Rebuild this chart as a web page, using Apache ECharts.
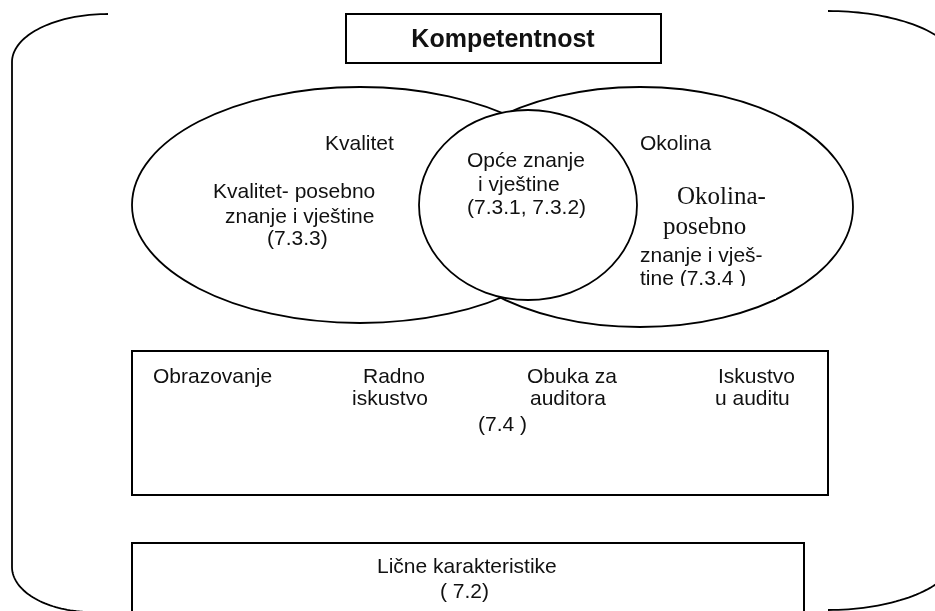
<!DOCTYPE html>
<html>
<head>
<meta charset="UTF-8">
<title>Kompetentnost</title>
<script src="https://cdn.jsdelivr.net/npm/echarts@6/dist/echarts.min.js"></script>
<style>
	html, body { margin: 0; padding: 0; background: #fff; }
	#main { width: 935px; height: 611px; }
</style>
</head>
<body>
<div id="main"></div>
<script>
	// tekstovi dijagrama
	var titleText = ['Kompetentnost'];
	var vennHeads = ['Kvalitet', 'Okolina'];
	var qualityText = ['Kvalitet- posebno', 'znanje i vještine', '(7.3.3)'];
	var commonText = ['Opće znanje', 'i vještine', '(7.3.1, 7.3.2)'];
	var envSerif = ['Okolina-', 'posebno'];
	var envText = ['znanje i vješ-', 'tine (7.3.4 )'];
	var auditText = ['Obrazovanje', 'Radno', 'iskustvo', 'Obuka za', 'auditora', 'Iskustvo', 'u auditu', '(7.4 )'];
	var personalText = ['Lične karakteristike', '( 7.2)'];

	// raspored u jedinicama dijagrama (x 0..935, y 0..611)
	var titlePos = [[503, 40]];
	var vennHeadPos = [[325, 144], [640, 144]];
	var qualityPos = [[213, 192], [225, 217], [267, 239]];
	var commonPos = [[467, 161], [478, 185], [467, 208]];
	var envSerifPos = [[677, 197], [663, 227]];
	var envPos = [[640, 256], [640, 279]];
	var auditPos = [[153, 377], [363, 377], [352, 399], [527, 377], [530, 399], [718, 377], [715, 399], [478, 425]];
	var personalPos = [[377, 567], [440, 592]];

	var ellipses = [[360, 205, 228, 118, 0], [640, 207, 213, 120, 0], [528, 205, 109, 95, 1]];
	var boxes = [[346, 14, 315, 49], [132, 351, 696, 144], [132, 543, 672, 80]];
	// [cx, cy, rx, ry, t0, t1] gornji luk pa donji luk
	var brackets = [
		[108, 62, 96, 48, 270, 180, 92, 567, 80, 45, 180, 90],
		[828, 66, 130, 55, 270, 360, 828, 552, 130, 58, 0, 90]
	];
	var clipBand = [[636, 286, 140, 13]];

	var SANS = '21px "Liberation Sans", Arial, sans-serif';
	var SERIF = '25px "Liberation Serif", "Times New Roman", serif';
	var TITLE = 'bold 25px "Liberation Sans", Arial, sans-serif';

	var labels = [];
	var labelData = [];
	function addLabels(texts, pos, font, align) {
		for (var i = 0; i < texts.length; i++) {
			labels.push({ text: texts[i], font: font, align: align });
			labelData.push(pos[i]);
		}
	}
	addLabels(titleText, titlePos, TITLE, 'center');
	addLabels(vennHeads, vennHeadPos, SANS, 'left');
	addLabels(qualityText, qualityPos, SANS, 'left');
	addLabels(commonText, commonPos, SANS, 'left');
	addLabels(envSerif, envSerifPos, SERIF, 'left');
	addLabels(envText, envPos, SANS, 'left');
	addLabels(auditText, auditPos, SANS, 'left');
	addLabels(personalText, personalPos, SANS, 'left');

	function arcPoints(api, cx, cy, rx, ry, t0, t1) {
		var pts = [];
		var n = 40;
		for (var k = 0; k <= n; k++) {
			var t = (t0 + (t1 - t0) * k / n) * Math.PI / 180;
			pts.push(api.coord([cx + rx * Math.cos(t), cy + ry * Math.sin(t)]));
		}
		return pts;
	}

	var myChart = echarts.init(document.getElementById('main'));
	var option = {
		animation: false,
		backgroundColor: '#fff',
		grid: { left: 0, right: 0, top: 0, bottom: 0 },
		xAxis: { type: 'value', min: 0, max: 935, show: false },
		yAxis: { type: 'value', min: 0, max: 611, inverse: true, show: false },
		series: [
			{
				name: 'zagrade',
				type: 'custom',
				z: 2,
				data: brackets,
				renderItem: function (params, api) {
					var b = brackets[params.dataIndex];
					var pts = arcPoints(api, b[0], b[1], b[2], b[3], b[4], b[5])
						.concat(arcPoints(api, b[6], b[7], b[8], b[9], b[10], b[11]));
					return {
						type: 'polyline',
						shape: { points: pts },
						style: { stroke: '#000', lineWidth: 1.8, fill: null }
					};
				}
			},
			{
				name: 'okviri',
				type: 'custom',
				z: 2,
				data: boxes,
				renderItem: function (params, api) {
					var p = api.coord([api.value(0), api.value(1)]);
					var s = api.size([api.value(2), api.value(3)]);
					return {
						type: 'rect',
						shape: { x: p[0], y: p[1], width: Math.abs(s[0]), height: Math.abs(s[1]) },
						style: { stroke: '#000', lineWidth: 2, fill: 'none' }
					};
				}
			},
			{
				name: 'elipse',
				type: 'custom',
				z: 3,
				data: ellipses,
				renderItem: function (params, api) {
					var c = api.coord([api.value(0), api.value(1)]);
					var s = api.size([api.value(2), api.value(3)]);
					return {
						type: 'ellipse',
						z2: params.dataIndex,
						shape: { cx: c[0], cy: c[1], rx: Math.abs(s[0]), ry: Math.abs(s[1]) },
						style: { stroke: '#000', lineWidth: 1.8, fill: api.value(4) ? '#fff' : 'none' }
					};
				}
			},
			{
				name: 'tekst',
				type: 'custom',
				z: 5,
				data: labelData,
				renderItem: function (params, api) {
					var p = api.coord([api.value(0), api.value(1)]);
					var l = labels[params.dataIndex];
					return {
						type: 'text',
						x: p[0],
						y: p[1],
						style: { text: l.text, font: l.font, fill: '#111', align: l.align, verticalAlign: 'middle' }
					};
				}
			},
			{
				name: 'rez',
				type: 'custom',
				z: 6,
				data: clipBand,
				renderItem: function (params, api) {
					var p = api.coord([api.value(0), api.value(1)]);
					var s = api.size([api.value(2), api.value(3)]);
					return {
						type: 'rect',
						shape: { x: p[0], y: p[1], width: Math.abs(s[0]), height: Math.abs(s[1]) },
						style: { fill: '#fff' }
					};
				}
			}
		]
	};
	myChart.setOption(option);
</script>
</body>
</html>
